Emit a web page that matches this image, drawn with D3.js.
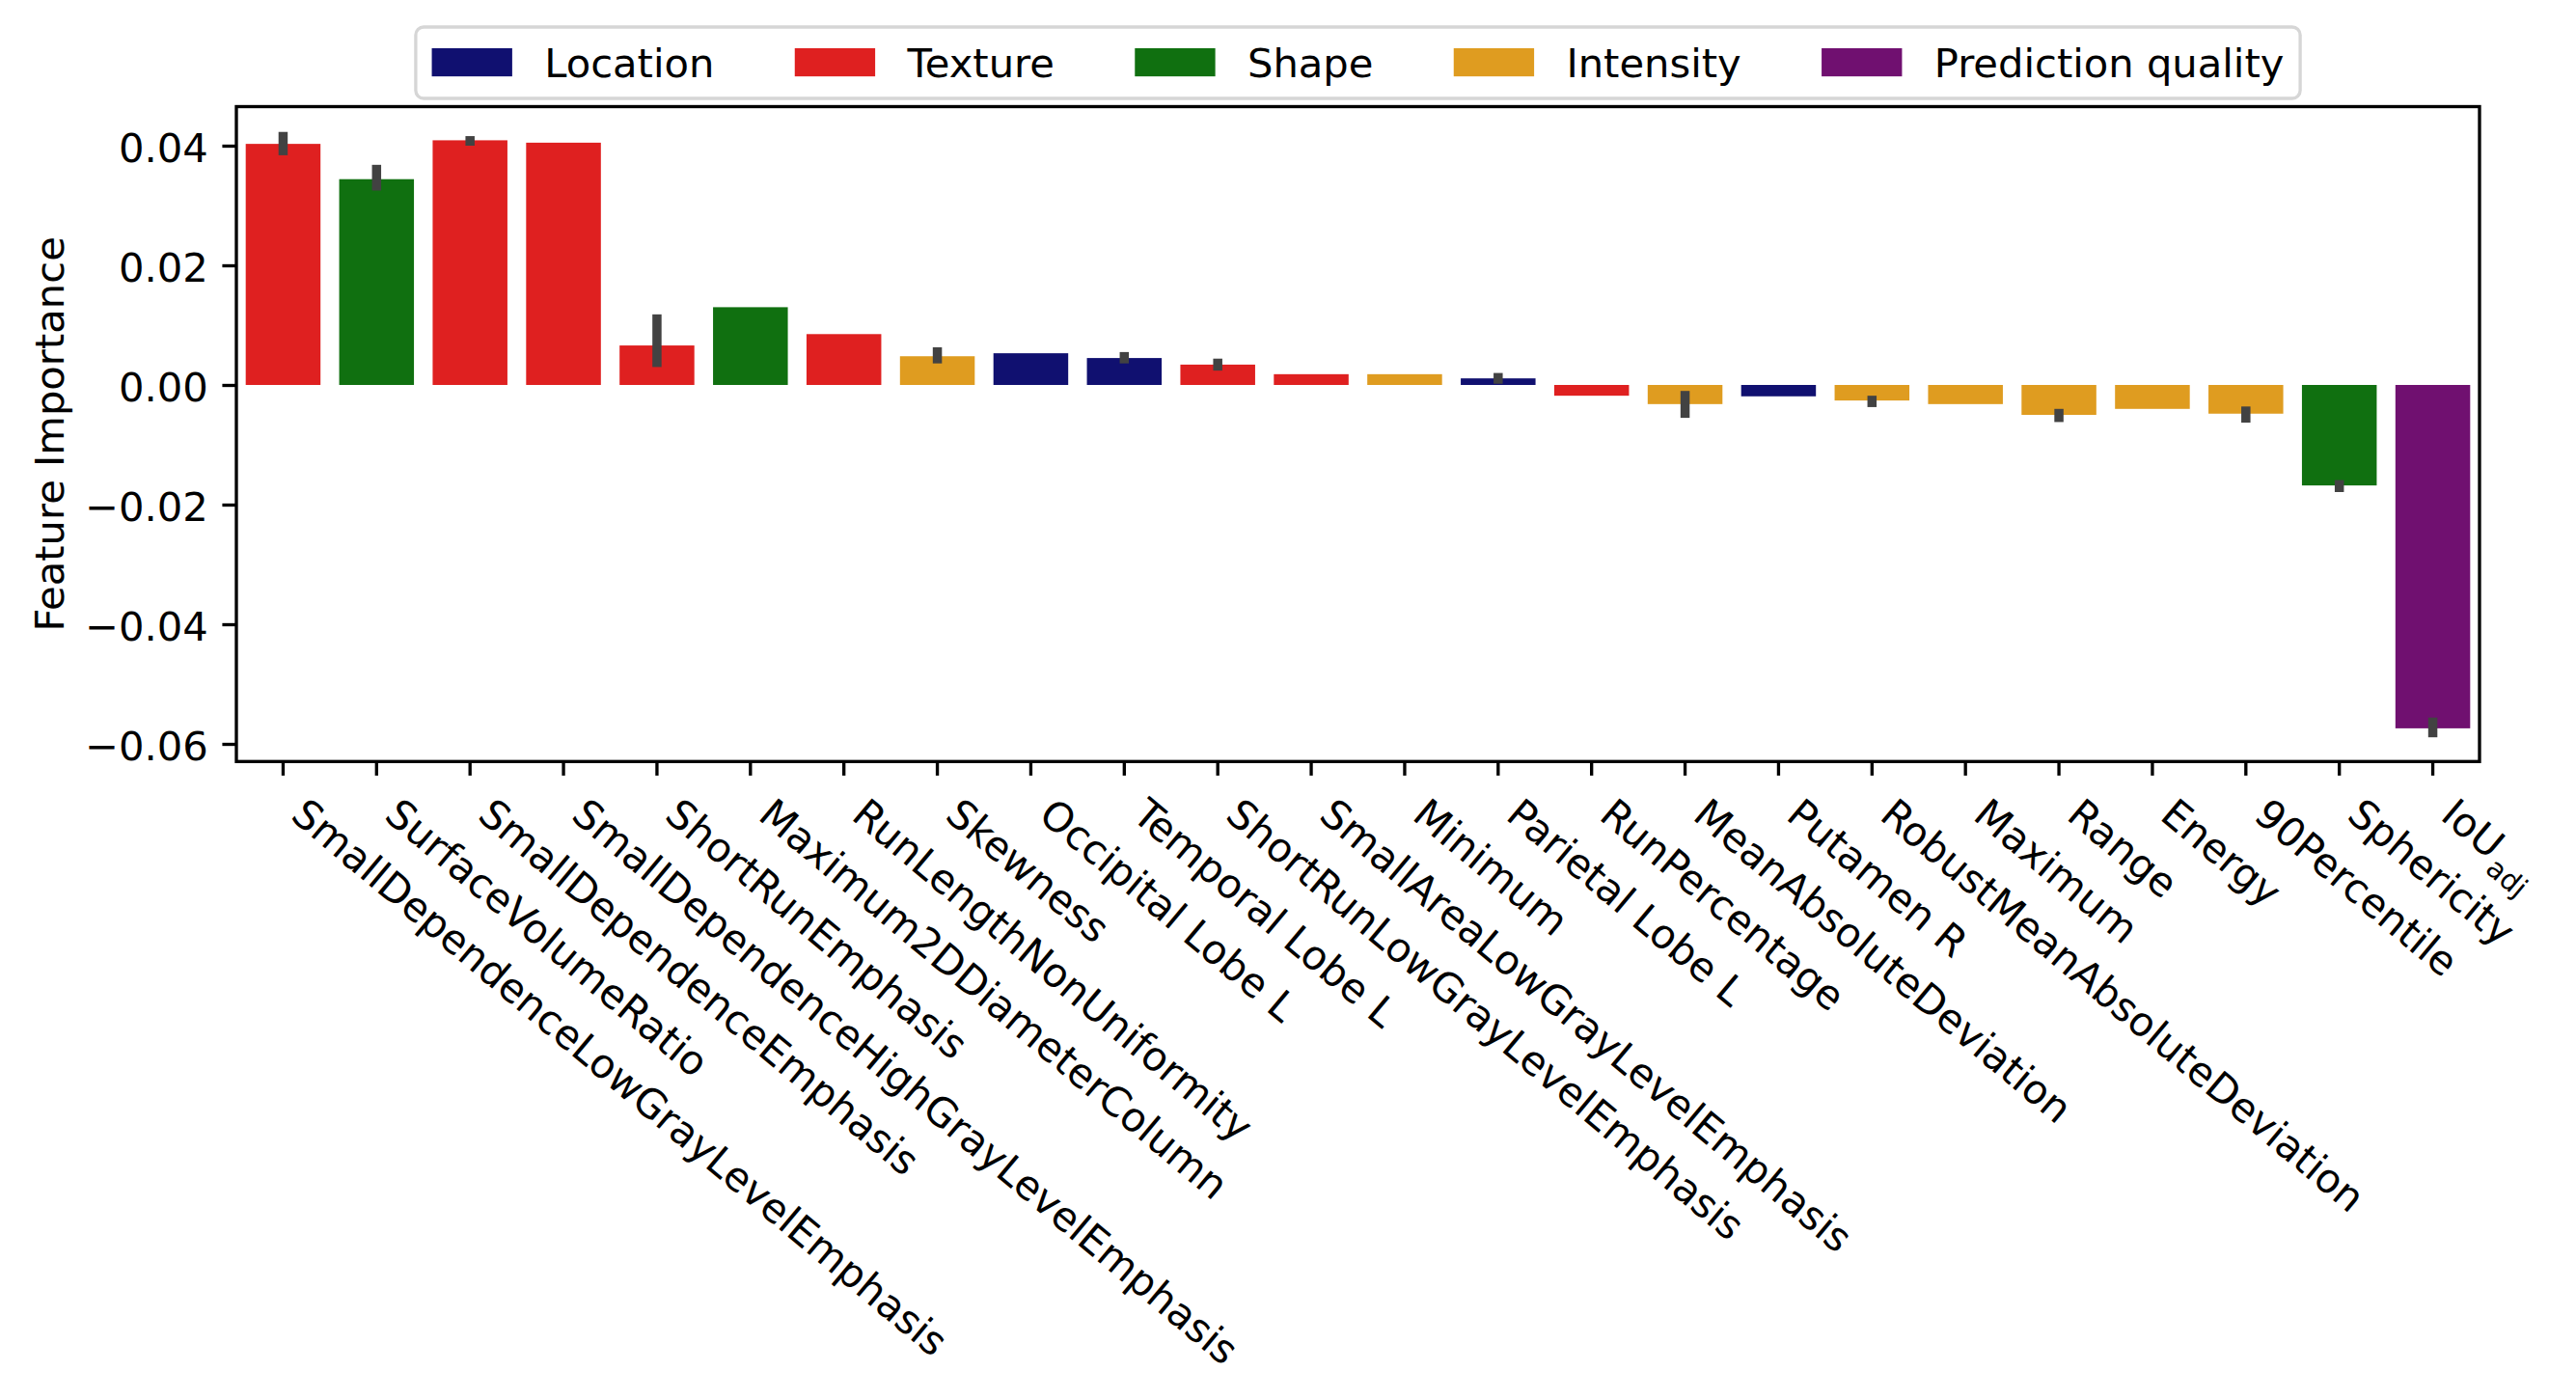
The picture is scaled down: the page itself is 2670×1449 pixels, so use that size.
<!DOCTYPE html>
<html>
<head>
<meta charset="UTF-8" />
<title>Feature Importance</title>
<script src="https://cdn.jsdelivr.net/npm/d3@7"></script>
<style>
    body { margin: 0; background: #fff; }
    text { font-family: "DejaVu Sans", sans-serif; }
</style>
</head>
<body>
<svg id="chart"></svg>
<script>
    // feature names, in plotted order
    const features = [
        "SmallDependenceLowGrayLevelEmphasis", "SurfaceVolumeRatio", "SmallDependenceEmphasis",
        "SmallDependenceHighGrayLevelEmphasis", "ShortRunEmphasis", "Maximum2DDiameterColumn",
        "RunLengthNonUniformity", "Skewness", "Occipital Lobe L", "Temporal Lobe L",
        "ShortRunLowGrayLevelEmphasis", "SmallAreaLowGrayLevelEmphasis", "Minimum",
        "Parietal Lobe L", "RunPercentage", "MeanAbsoluteDeviation", "Putamen R",
        "RobustMeanAbsoluteDeviation", "Maximum", "Range", "Energy", "90Percentile",
        "Sphericity", "IoU_adj"
    ];
    const groups = [
        "Texture", "Shape", "Texture", "Texture", "Texture", "Shape", "Texture", "Intensity",
        "Location", "Location", "Texture", "Texture", "Intensity", "Location", "Texture",
        "Intensity", "Location", "Intensity", "Intensity", "Intensity", "Intensity", "Intensity",
        "Shape", "Prediction quality"
    ];
    const importance = [
        0.0403, 0.0344, 0.0409, 0.0405, 0.0066, 0.0130, 0.0085, 0.0048, 0.0053, 0.0045,
        0.0034, 0.0018, 0.0018, 0.0011, -0.0018, -0.0032, -0.0019, -0.0026, -0.0032,
        -0.0050, -0.0040, -0.0048, -0.0168, -0.0574
    ];
    // confidence interval ends (null = too small to see)
    const ciLow = [
        0.0384, 0.0325, 0.0400, null, 0.0030, null, null, 0.0036, null, 0.0036,
        0.0024, null, null, 0.0002, null, -0.0055, null, -0.0037, null,
        -0.0062, null, -0.0063, -0.0179, -0.0589
    ];
    const ciHigh = [
        0.0423, 0.0368, 0.0416, null, 0.0118, null, null, 0.0063, null, 0.0055,
        0.0044, null, null, 0.0020, null, -0.0010, null, -0.0018, null,
        -0.0040, null, -0.0036, -0.0159, -0.0556
    ];
    const legendGroups = ["Location", "Texture", "Shape", "Intensity", "Prediction quality"];
    const groupColors = ["#101070", "#df2020", "#107010", "#df9c20", "#701070"];
    const yTicks = [-0.06, -0.04, -0.02, 0, 0.02, 0.04];

    const width = 2670, height = 1449;
    const fs = 41.67;          // 10pt at 300dpi
    const pt = 300 / 72;
    const plotLeft = 245, plotRight = 2570, plotTop = 110.5, plotBottom = 789.3;
    const labelAngle = 40;

    const svg = d3.select("#chart").attr("width", width).attr("height", height);

    const x = d3.scaleBand().domain(features).range([plotLeft, plotRight]).padding(0);
    const y = d3.scaleLinear().domain([-0.06295, 0.04653]).range([plotBottom, plotTop]);
    const color = d3.scaleOrdinal().domain(legendGroups).range(groupColors);

    const rows = features.map((f, i) => ({
        name: f, group: groups[i], value: importance[i], lo: ciLow[i], hi: ciHigh[i]
    }));

    // bars
    svg.append("g").selectAll("rect")
        .data(rows)
        .join("rect")
        .attr("x", d => x(d.name) + x.bandwidth() * 0.1)
        .attr("width", x.bandwidth() * 0.8)
        .attr("y", d => Math.min(y(d.value), y(0)))
        .attr("height", d => Math.abs(y(d.value) - y(0)))
        .attr("fill", d => color(d.group));

    // error bars
    svg.append("g").selectAll("line")
        .data(rows.filter(d => d.lo !== null))
        .join("line")
        .attr("x1", d => x(d.name) + x.bandwidth() / 2)
        .attr("x2", d => x(d.name) + x.bandwidth() / 2)
        .attr("y1", d => y(d.lo))
        .attr("y2", d => y(d.hi))
        .attr("stroke", "#424242")
        .attr("stroke-width", 9.5);

    // y axis
    const yAxis = svg.append("g")
        .attr("transform", `translate(${plotLeft},0)`)
        .call(d3.axisLeft(y).tickValues(yTicks).tickFormat(d3.format(".2f"))
            .tickSize(3.5 * pt).tickPadding(3.5 * pt));
    yAxis.select(".domain").remove();
    yAxis.selectAll("line").attr("stroke", "#000").attr("stroke-width", 0.8 * pt);
    yAxis.selectAll("text").attr("font-size", fs).attr("fill", "#000").attr("dy", "0.4em")
        .attr("font-family", "DejaVu Sans");

    // x axis ticks
    const xAxis = svg.append("g")
        .attr("transform", `translate(0,${plotBottom})`)
        .call(d3.axisBottom(x).tickFormat("").tickSize(3.5 * pt));
    xAxis.select(".domain").remove();
    xAxis.selectAll("line").attr("stroke", "#000").attr("stroke-width", 0.8 * pt);

    // rotated x labels (bbox top-left anchored under the tick)
    const labelTop = plotBottom + 7 * pt;
    const rad = labelAngle * Math.PI / 180;
    const labels = svg.append("g").selectAll("text")
        .data(rows)
        .join("text")
        .attr("font-size", fs)
        .attr("transform", d => {
            const cx = x(d.name) + x.bandwidth() / 2;
            const bx = cx + 0.236 * fs * Math.sin(rad);
            const by = labelTop + 0.928 * fs * Math.cos(rad);
            return `translate(${bx},${by}) rotate(${labelAngle})`;
        });
    labels.each(function(d) {
        const t = d3.select(this);
        if (d.name === "IoU_adj") {
            t.append("tspan").text("IoU");
            t.append("tspan").attr("font-size", fs * 0.7).attr("dx", 3).attr("dy", 12).text("adj");
        } else {
            t.text(d.name);
        }
    });

    // axes frame
    svg.append("rect")
        .attr("x", plotLeft).attr("y", plotTop)
        .attr("width", plotRight - plotLeft).attr("height", plotBottom - plotTop)
        .attr("fill", "none").attr("stroke", "#000").attr("stroke-width", 0.8 * pt);

    // y label
    svg.append("text")
        .attr("transform", `translate(66,${(plotTop + plotBottom) / 2}) rotate(-90)`)
        .attr("text-anchor", "middle")
        .attr("font-size", fs)
        .text("Feature Importance");

    // legend
    const legend = svg.append("g");
    const frame = legend.append("rect");
    const patchW = 2 * fs, patchH = 0.7 * fs, gap = 0.8 * fs, colSpace = 2 * fs, pad = 0.4 * fs;
    const items = legend.selectAll("g.item")
        .data(legendGroups)
        .join("g").attr("class", "item");
    items.append("rect")
        .attr("width", patchW).attr("height", patchH)
        .attr("y", 50)
        .attr("fill", d => color(d));
    items.append("text")
        .attr("x", patchW + gap).attr("y", 80)
        .attr("font-size", fs)
        .text(d => d);
    const offsets = [];
    let cursor = 0;
    items.each(function() {
        offsets.push(cursor);
        cursor += patchW + gap + d3.select(this).select("text").node().getComputedTextLength() + colSpace;
    });
    const boxW = cursor - colSpace + 2 * pad;
    const boxX = (plotLeft + plotRight) / 2 - boxW / 2;
    items.attr("transform", (d, i) => `translate(${boxX + pad + offsets[i]},0)`);
    frame.attr("x", boxX).attr("y", 28).attr("width", boxW).attr("height", 74)
        .attr("rx", 8.3).attr("fill", "#fff").attr("stroke", "#d6d6d6").attr("stroke-width", 0.8 * pt);
</script>
</body>
</html>
